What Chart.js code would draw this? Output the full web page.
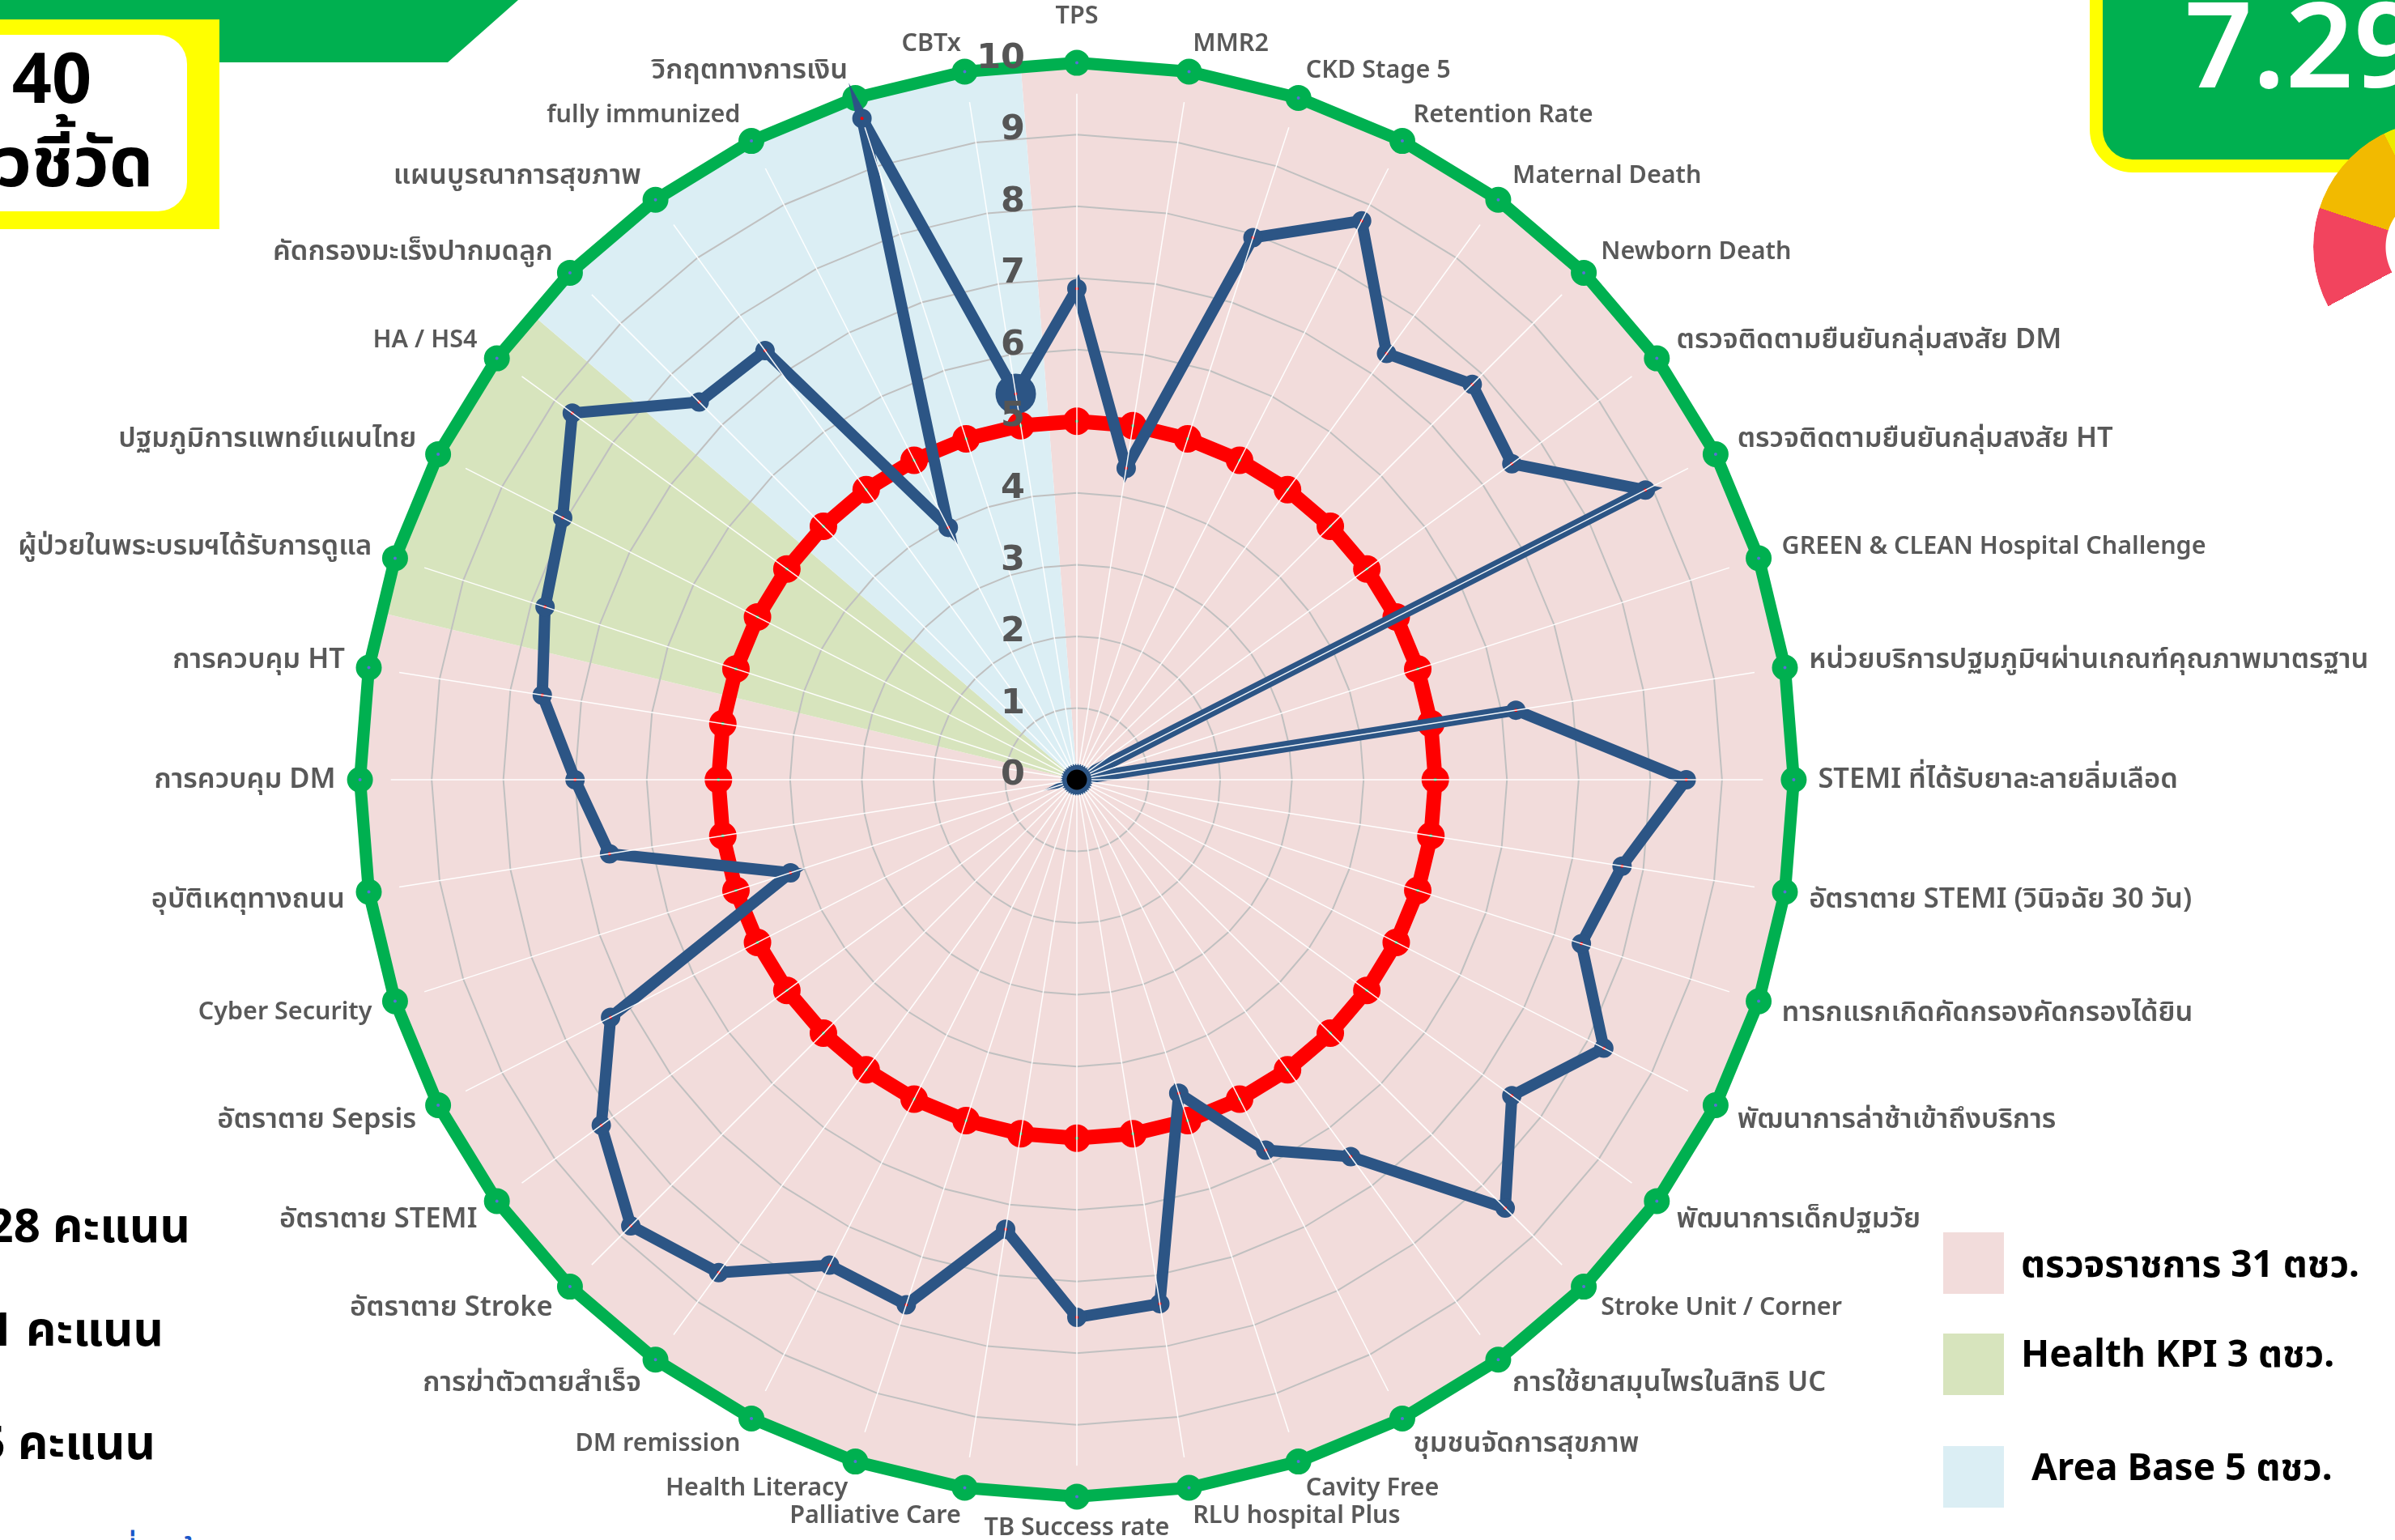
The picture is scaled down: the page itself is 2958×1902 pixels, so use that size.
<!DOCTYPE html>
<html lang="th">
<head>
<meta charset="utf-8">
<title>40 ตัวชี้วัด</title>
<script src="https://cdn.jsdelivr.net/npm/chart.js@4.4.1/dist/chart.umd.min.js"></script>
<style>
  html, body { margin: 0; padding: 0; }
  body {
    width: 2958px; height: 1902px; overflow: hidden; position: relative; background: #fff;
    font-family: 'Noto Sans', 'Noto Sans Thai', 'Noto Sans Thai UI', sans-serif;
  }
  #radar { position: absolute; left: -470px; top: 7px; }

  .banner {
    position: absolute; left: 0; top: 0; width: 640px; height: 77px; background: #00B050;
    clip-path: polygon(0 0, 640px 0, 553px 77px, 0 77px);
  }
  .count-box { position: absolute; left: 0; top: 24px; width: 271px; height: 259px; background: #FFFF00; z-index: 2; }
  .count-inner { position: absolute; left: -103px; top: 19px; width: 334px; height: 218px; background: #fff; border-radius: 36px; }
  .count-inner div { position: absolute; left: 0; width: 100%; text-align: center; font-weight: 700; color: #000; font-size: 86px; line-height: 86px; white-space: nowrap; }
  .count-num { top: 8px; }
  .count-unit { top: 111px; }

  .score-box {
    position: absolute; left: 2581px; top: -60px; width: 500px; height: 273px; box-sizing: border-box;
    border: 16px solid #FFFF00; background: #00B050; border-radius: 53px; z-index: 2;
  }
  .score-val { position: absolute; left: 2698px; top: -22px; font-size: 147px; line-height: 147px; font-weight: 600; color: #fff; z-index: 3; white-space: nowrap; }
  .gauge {
    position: absolute; left: 2857px; top: 149px; width: 312px; height: 312px; border-radius: 50%; z-index: 4;
    background: conic-gradient(transparent 0deg 242deg, #F2445E 242deg 288deg, #F2BA00 288deg 334deg, #EDEB00 334deg 360deg);
    -webkit-mask: radial-gradient(circle, transparent 66px, #000 67px);
    mask: radial-gradient(circle, transparent 66px, #000 67px);
  }

  .pts { position: absolute; font-size: 58px; line-height: 58px; font-weight: 700; color: #000; white-space: nowrap; z-index: 2; }
  .src { position: absolute; left: 141px; top: 1896px; font-size: 48px; line-height: 48px; color: #1a57c9; white-space: nowrap; }

  .legend-item { position: absolute; left: 2400px; z-index: 2; }
  .legend-item .sw { position: absolute; left: 0; top: 0; width: 75px; height: 76px; }
  .legend-item .tx { position: absolute; font-size: 46px; line-height: 46px; font-weight: 700; color: #000; white-space: nowrap; }
</style>
</head>
<body>
<div class="banner"></div>
<div class="count-box"><div class="count-inner"><div class="count-num">40</div><div class="count-unit">ตัวชี้วัด</div></div></div>
<div class="score-box"></div>
<div class="score-val">7.29</div>
<div class="gauge"></div>

<div class="pts" style="right:2723px; top:1483px;">28 คะแนน</div>
<div class="pts" style="right:2756px; top:1611px;">1 คะแนน</div>
<div class="pts" style="right:2766px; top:1751px;">5 คะแนน</div>
<div class="src">ที่มาข้อมูล</div>

<canvas id="radar" width="3600" height="1894"></canvas>
<div id="legend"></div>

<script>
// ---------------------------------------------- DATA ----------------------------------------------//
const indicatorLabels = [
  'TPS', 'MMR2', 'CKD Stage 5', 'Retention Rate', 'Maternal Death', 'Newborn Death',
  'ตรวจติดตามยืนยันกลุ่มสงสัย DM', 'ตรวจติดตามยืนยันกลุ่มสงสัย HT', 'GREEN & CLEAN Hospital Challenge',
  'หน่วยบริการปฐมภูมิฯผ่านเกณฑ์คุณภาพมาตรฐาน', 'STEMI ที่ได้รับยาละลายลิ่มเลือด', 'อัตราตาย STEMI (วินิจฉัย 30 วัน)',
  'ทารกแรกเกิดคัดกรองคัดกรองได้ยิน', 'พัฒนาการล่าช้าเข้าถึงบริการ', 'พัฒนาการเด็กปฐมวัย', 'Stroke Unit / Corner',
  'การใช้ยาสมุนไพรในสิทธิ UC', 'ชุมชนจัดการสุขภาพ', 'Cavity Free', 'RLU hospital Plus', 'TB Success rate',
  'Palliative Care', 'Health Literacy', 'DM remission', 'การฆ่าตัวตายสำเร็จ', 'อัตราตาย Stroke', 'อัตราตาย STEMI',
  'อัตราตาย Sepsis', 'Cyber Security', 'อุบัติเหตุทางถนน', 'การควบคุม DM', 'การควบคุม HT',
  'ผู้ป่วยในพระบรมฯได้รับการดูแล', 'ปฐมภูมิการแพทย์แผนไทย', 'HA / HS4', 'คัดกรองมะเร็งปากมดลูก',
  'แผนบูรณาการสุขภาพ', 'fully immunized', 'วิกฤตทางการเงิน', 'CBTx'
];

const scoreValues = [
  6.85, 4.4, 7.95, 8.75, 7.35, 7.8, 7.5, 8.9, 0, 6.2,
  8.5, 7.7, 7.4, 8.25, 7.5, 8.45, 6.5, 5.8, 4.6, 7.4,
  7.5, 6.35, 7.7, 7.6, 8.5, 8.8, 8.2, 7.3, 4.2, 6.6,
  7.0, 7.55, 7.8, 8.05, 8.7, 7.45, 7.4, 3.95, 9.7, 5.45
];

const targetValues = [
  5, 5, 5, 5, 5, 5, 5, 5, 5, 5,
  5, 5, 5, 5, 5, 5, 5, 5, 5, 5,
  5, 5, 5, 5, 5, 5, 5, 5, 5, 5,
  5, 5, 5, 5, 5, 5, 5, 5, 5, 5
];

const fullValues = [
  10, 10, 10, 10, 10, 10, 10, 10, 10, 10,
  10, 10, 10, 10, 10, 10, 10, 10, 10, 10,
  10, 10, 10, 10, 10, 10, 10, 10, 10, 10,
  10, 10, 10, 10, 10, 10, 10, 10, 10, 10
];

// group of each indicator: 0 = ตรวจราชการ, 1 = Health KPI, 2 = Area Base
const indicatorGroup = [
  0, 0, 0, 0, 0, 0, 0, 0, 0, 0,
  0, 0, 0, 0, 0, 0, 0, 0, 0, 0,
  0, 0, 0, 0, 0, 0, 0, 0, 0, 0,
  0, 0, 1, 1, 1, 2, 2, 2, 2, 2
];
const groupNames = ['ตรวจราชการ 31 ตชว.', 'Health KPI 3 ตชว.', 'Area Base 5 ตชว.'];

// ---------------------------------------------- STYLE ----------------------------------------------//
const groupColors = ['#F2DCDB', '#D7E4BD', '#DBEEF4'];
const BLUE = '#2C5585';
const RED = '#FF0000';
const GREEN = '#00B050';
const THAI = /[\u0E00-\u0E7F]/;

// coloured sectors behind the grid
const sectorPlugin = {
  id: 'sectors',
  beforeDraw(chart) {
    const r = chart.scales.r;
    const ctx = chart.ctx;
    const n = indicatorLabels.length;
    const step = Math.PI * 2 / n;
    const outer = r.getDistanceFromCenterForValue(r.max);
    ctx.save();
    let start = 0;
    for (let i = 1; i <= n; i++) {
      if (i === n || indicatorGroup[i] !== indicatorGroup[start]) {
        const a0 = r.getIndexAngle(start) - Math.PI / 2 - step / 2;
        const a1 = r.getIndexAngle(i - 1) - Math.PI / 2 + step / 2;
        ctx.beginPath();
        ctx.moveTo(r.xCenter, r.yCenter);
        ctx.arc(r.xCenter, r.yCenter, outer, a0, a1);
        ctx.closePath();
        ctx.fillStyle = groupColors[indicatorGroup[start]];
        ctx.fill();
        start = i;
      }
    }
    ctx.restore();
  }
};

// white spokes and value ticks drawn over the series
const overlayPlugin = {
  id: 'overlay',
  afterDatasetsDraw(chart) {
    const r = chart.scales.r;
    const ctx = chart.ctx;
    ctx.save();
    ctx.strokeStyle = 'rgba(255,255,255,0.95)';
    ctx.lineWidth = 1.5;
    const outer = r.getDistanceFromCenterForValue(9.57);
    for (let i = 0; i < indicatorLabels.length; i++) {
      const p0 = r.getPointPosition(i, 18);
      const p1 = r.getPointPosition(i, outer);
      ctx.beginPath();
      ctx.moveTo(p0.x, p0.y);
      ctx.lineTo(p1.x, p1.y);
      ctx.stroke();
    }
    ctx.font = 'bold 43px "DejaVu Sans"';
    ctx.fillStyle = '#555555';
    ctx.textAlign = 'right';
    ctx.textBaseline = 'middle';
    r.ticks.forEach(t => {
      ctx.fillText(t.label, r.xCenter - 64, r.yCenter - r.getDistanceFromCenterForValue(t.value) - 5);
    });
    ctx.restore();
  }
};

//---------------------------------------------- RADAR ----------------------------------------------//
const radar = new Chart(document.getElementById('radar'), {
  type: 'radar',
  data: {
    labels: indicatorLabels,
    datasets: [
      {
        label: 'คะแนน',
        data: scoreValues,
        fill: false,
        borderColor: BLUE,
        borderWidth: 14,
        pointBorderColor: BLUE,
        pointBackgroundColor: c => c.raw === 0 ? '#000000' : RED,
        pointRadius: c => c.raw === 0 ? 16 : 7,
        pointBorderWidth: c => c.raw === 0 ? 7 : 10,
        pointHoverRadius: 13.5,
        pointHoverBorderWidth: 23,
        pointHoverBackgroundColor: RED,
        pointHoverBorderColor: BLUE
      },
      {
        label: 'เกณฑ์',
        data: targetValues,
        fill: false,
        borderColor: RED,
        borderWidth: 18,
        pointBorderColor: RED,
        pointBackgroundColor: GREEN,
        pointRadius: 9.5,
        pointBorderWidth: 15
      },
      {
        label: 'เต็ม',
        data: fullValues,
        fill: false,
        borderColor: GREEN,
        borderWidth: 15,
        pointBorderColor: GREEN,
        pointBackgroundColor: '#5A6ED8',
        pointRadius: 9,
        pointBorderWidth: 14
      }
    ]
  },
  options: {
    responsive: false,
    maintainAspectRatio: false,
    devicePixelRatio: 1,
    animation: false,
    events: [],
    layout: { padding: 0 },
    plugins: { legend: { display: false }, tooltip: { enabled: false } },
    elements: { line: { tension: 0 } },
    scales: {
      r: {
        min: 0,
        max: 10,
        ticks: { display: false, stepSize: 1 },
        grid: { color: '#C0C0C0', lineWidth: 2, circular: false },
        angleLines: { display: false },
        pointLabels: {
          color: '#595959',
          font: c => ({
            family: "'Noto Sans', 'Noto Sans Thai', sans-serif",
            size: THAI.test(c.label) ? 34.5 : 30.5,
            weight: '600',
            lineHeight: '9.6px'
          }),
          padding: c => c.index === 0 ? 52 : (c.index === 20 ? 34 : 30)
        }
      }
    }
  },
  plugins: [sectorPlugin, overlayPlugin]
});

// highlighted point (hover state in the original)
radar.setActiveElements([{ datasetIndex: 0, index: 39 }]);
radar.render();

//---------------------------------------------- LEGEND ----------------------------------------------//
const legendTops = [1522, 1647, 1786];
const legendTextLeft = [96, 96, 109];
const legendTextTop = [14, 0, 1];
const legend = document.getElementById('legend');
groupNames.forEach((name, i) => {
  const item = document.createElement('div');
  item.className = 'legend-item';
  item.style.top = legendTops[i] + 'px';
  item.innerHTML = '<div class="sw" style="background:' + groupColors[i] + '"></div>' +
    '<div class="tx" style="left:' + legendTextLeft[i] + 'px; top:' + legendTextTop[i] + 'px">' + name + '</div>';
  legend.appendChild(item);
});
</script>
</body>
</html>
